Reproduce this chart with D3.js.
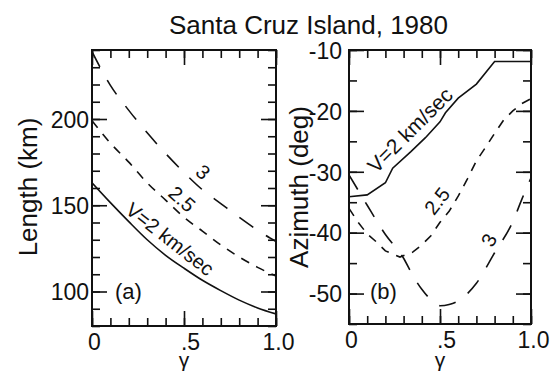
<!DOCTYPE html>
<html>
<head>
<meta charset="utf-8">
<script src="https://cdn.jsdelivr.net/npm/d3@7"></script>
<style>
body { margin: 0; background: #fff; }
svg text { font-family: "Liberation Sans", Arial, sans-serif; fill: #111; }
</style>
</head>
<body>
<div id="chart"></div>
<script>
const title = "Santa Cruz Island, 1980";

// panel (a): rupture length vs gamma
const gammaA = [0, 0.1, 0.2, 0.3, 0.4, 0.5, 0.6, 0.7, 0.8, 0.9, 1.0];
const lengthV2 = [163, 151.5, 140.5, 130, 121, 113.5, 106.5, 100.5, 95, 90.5, 87];
const lengthV25 = [199, 186, 175, 163, 153, 143, 135, 127, 120, 114, 109];
const lengthV3 = [239, 219.5, 205, 192, 180, 169, 159, 151, 143, 135.5, 129];

// panel (b): azimuth vs gamma
const gammaBV2 = [0, 0.1, 0.2, 0.24, 0.34, 0.42, 0.5, 0.53, 0.6, 0.7, 0.8, 1.0];
const azimuthV2 = [-34.1, -33.8, -31.8, -29.4, -26.7, -24.4, -21.8, -20.3, -17.9, -15.6, -11.9, -11.9];
const gammaBV25 = [0, 0.05, 0.1, 0.15, 0.2, 0.28, 0.35, 0.4, 0.45, 0.5, 0.55, 0.6, 0.65, 0.7, 0.75, 0.8, 0.85, 0.9, 0.95, 1.0];
const azimuthV25 = [-36, -38.3, -40.2, -41.5, -43, -44, -43.2, -42, -40.5, -38.3, -36.5, -34, -31.2, -28.2, -26, -23.7, -21.5, -20, -18.8, -18];
const gammaBV3 = [0, 0.1, 0.2, 0.3, 0.35, 0.4, 0.45, 0.5, 0.55, 0.6, 0.7, 0.8, 0.9, 0.95, 1.0];
const azimuthV3 = [-30.5, -35.5, -40.3, -44.2, -47, -49.3, -51, -52, -51.8, -51.2, -48.3, -43.3, -38.2, -34.5, -31];

const xTicks = [0, 0.5, 1];
const xTickLabels = ["0", ".5", "1.0"];
const lenTicks = [100, 150, 200];
const lenTickLabels = ["100", "150", "200"];
const azTicks = [-10, -20, -30, -40, -50];
const azTickLabels = ["-10", "-20", "-30", "-40", "-50"];

const W = 559, H = 373;
const svg = d3.select("#chart").append("svg")
    .attr("width", W).attr("height", H)
    .attr("viewBox", `0 0 ${W} ${H}`);

svg.append("text")
    .attr("x", 308.5).attr("y", 34)
    .attr("text-anchor", "middle")
    .style("font-size", "26px")
    .text(title);

function panel(opts) {
    const x = d3.scaleLinear().domain([0, 1]).range([opts.left, opts.right]);
    const y = d3.scaleLinear().domain(opts.ydomain).range([opts.bottom, opts.top]);
    const g = svg.append("g");
    const xMinor = d3.range(0, 11).map(i => i / 10);
    const yMinor = d3.range(opts.ydomain[0], opts.ydomain[1] + 0.001, opts.ystep);

    function style(ax) {
        ax.select(".domain").remove();
        ax.selectAll(".tick line").attr("stroke", "#111").attr("stroke-width", 1.6);
    }

    // minor ticks, all four sides, pointing in
    g.append("g").attr("transform", `translate(0,${opts.bottom})`)
        .call(d3.axisBottom(x).tickValues(xMinor).tickSizeInner(-8).tickSizeOuter(0).tickFormat(""))
        .call(style);
    g.append("g").attr("transform", `translate(0,${opts.top})`)
        .call(d3.axisTop(x).tickValues(xMinor).tickSizeInner(-8).tickSizeOuter(0).tickFormat(""))
        .call(style);
    g.append("g").attr("transform", `translate(${opts.left},0)`)
        .call(d3.axisLeft(y).tickValues(yMinor).tickSizeInner(-8).tickSizeOuter(0).tickFormat(""))
        .call(style);
    g.append("g").attr("transform", `translate(${opts.right},0)`)
        .call(d3.axisRight(y).tickValues(yMinor).tickSizeInner(-8).tickSizeOuter(0).tickFormat(""))
        .call(style);

    // major ticks
    const bx = g.append("g").attr("transform", `translate(0,${opts.bottom})`)
        .call(d3.axisBottom(x).tickValues(xTicks).tickSizeInner(-15).tickSizeOuter(0).tickPadding(8)
            .tickFormat((d, i) => xTickLabels[i]))
        .call(style);
    bx.selectAll("text").style("font-size", "23px").attr("font-family", null)
        .attr("dx", d => d === 0.5 ? 6 : 2);
    g.append("g").attr("transform", `translate(0,${opts.top})`)
        .call(d3.axisTop(x).tickValues(xTicks).tickSizeInner(-15).tickSizeOuter(0).tickFormat(""))
        .call(style);
    const ly = g.append("g").attr("transform", `translate(${opts.left},0)`)
        .call(d3.axisLeft(y).tickValues(opts.yticks).tickSizeInner(-15).tickSizeOuter(0).tickPadding(opts.ypad)
            .tickFormat((d, i) => opts.ylabels[i]))
        .call(style);
    ly.selectAll("text").style("font-size", "23px").attr("font-family", null).attr("dy", "0.36em");
    g.append("g").attr("transform", `translate(${opts.right},0)`)
        .call(d3.axisRight(y).tickValues(opts.yticks).tickSizeInner(-15).tickSizeOuter(0).tickFormat(""))
        .call(style);

    // frame
    g.append("rect")
        .attr("x", opts.left).attr("y", opts.top)
        .attr("width", opts.right - opts.left).attr("height", opts.bottom - opts.top)
        .attr("fill", "none").attr("stroke", "#111").attr("stroke-width", 2);

    const clipId = "clip" + opts.name;
    g.append("clipPath").attr("id", clipId).append("rect")
        .attr("x", opts.left).attr("y", opts.top)
        .attr("width", opts.right - opts.left).attr("height", opts.bottom - opts.top);

    opts.series.forEach(s => {
        const line = d3.line()
            .x((d, i) => x(s.gamma[i]))
            .y(d => y(d))
            .curve(s.curve);
        g.append("path")
            .datum(s.values)
            .attr("clip-path", `url(#${clipId})`)
            .attr("d", line)
            .attr("fill", "none")
            .attr("stroke", "#111")
            .attr("stroke-width", 1.6)
            .attr("stroke-dasharray", s.dash);
    });

    opts.labels.forEach(l => {
        g.append("text")
            .attr("transform", `translate(${l.x},${l.y}) rotate(${l.rot})`)
            .attr("text-anchor", "middle")
            .attr("dy", "0.35em")
            .style("font-size", l.size + "px")
            .text(l.text);
    });

    g.append("text")
        .attr("transform", `translate(${opts.ytitleX},${opts.ytitleY}) rotate(-90)`)
        .attr("text-anchor", "middle")
        .style("font-size", "26px")
        .text(opts.ytitle);

    g.append("text")
        .attr("x", x(0.5)).attr("y", 367)
        .attr("text-anchor", "middle")
        .style("font-size", "21px")
        .text("\u03b3");

    g.append("text")
        .attr("x", opts.tagX).attr("y", 299)
        .style("font-size", "22px")
        .text(opts.tag);
}

panel({
    name: "a", left: 92, right: 276, top: 50, bottom: 326,
    ydomain: [80, 240], ystep: 10,
    yticks: lenTicks, ylabels: lenTickLabels, ypad: 3,
    ytitle: "Length (km)", ytitleX: 37, ytitleY: 187,
    tag: "(a)", tagX: 115,
    series: [
        { gamma: gammaA, values: lengthV2, dash: null, curve: d3.curveMonotoneX },
        { gamma: gammaA, values: lengthV25, dash: "9,8", curve: d3.curveMonotoneX },
        { gamma: gammaA, values: lengthV3, dash: "17,15", curve: d3.curveMonotoneX }
    ],
    labels: [
        { text: "V=2 km/sec", x: 170, y: 239, rot: 38, size: 20 },
        { text: "2.5", x: 182, y: 199, rot: 42, size: 20 },
        { text: "3", x: 203, y: 172, rot: 42, size: 20 }
    ]
});

panel({
    name: "b", left: 349, right: 531, top: 50, bottom: 324,
    ydomain: [-55, -10], ystep: 5,
    yticks: azTicks, ylabels: azTickLabels, ypad: 7,
    ytitle: "Azimuth (deg)", ytitleX: 308, ytitleY: 187,
    tag: "(b)", tagX: 370,
    series: [
        { gamma: gammaBV2, values: azimuthV2, dash: null, curve: d3.curveLinear },
        { gamma: gammaBV25, values: azimuthV25, dash: "9,8", curve: d3.curveLinear },
        { gamma: gammaBV3, values: azimuthV3, dash: "17,15", curve: d3.curveMonotoneX }
    ],
    labels: [
        { text: "V=2 km/sec", x: 410, y: 130, rot: -45, size: 21 },
        { text: "2.5", x: 437, y: 201, rot: -52, size: 20 },
        { text: "3", x: 489, y: 240, rot: -62, size: 20 }
    ]
});
</script>
</body>
</html>
